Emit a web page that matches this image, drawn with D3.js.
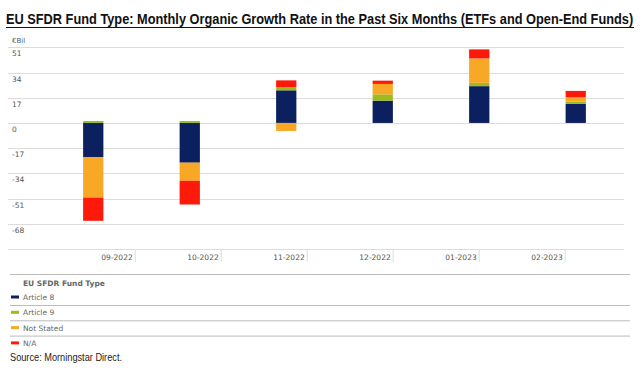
<!DOCTYPE html>
<html>
<head>
<meta charset="utf-8">
<script src="https://cdn.jsdelivr.net/npm/d3@7"></script>
<style>
  body { margin: 0; background: #fff; }
  svg { display: block; }
</style>
</head>
<body>
<svg id="chart" width="644" height="370"></svg>
<script>
const months = ["09-2022", "10-2022", "11-2022", "12-2022", "01-2023", "02-2023"];
const seriesNames = ["Article 8", "Article 9", "Not Stated", "N/A"];
const article8 = [-23, -26.8, 22, 15, 24.8, 12.8];
const article9 = [1.3, 1.3, 2.2, 4.3, 2.2, 1.5];
const notStated = [-27.3, -12.2, -5.4, 7, 16.5, 3];
const naValues = [-15.7, -16, 4.5, 2.2, 6.1, 4.3];
const yTicks = [51, 34, 17, 0, -17, -34, -51, -68];
const colors = ["#0c1f5e", "#9dbb1e", "#f9a825", "#fd1a0a"];

const rows = months.map((m, i) => ({
  month: m,
  "Article 8": article8[i],
  "Article 9": article9[i],
  "Not Stated": notStated[i],
  "N/A": naValues[i]
}));

const svg = d3.select("#chart");

// title, squeezed horizontally to mimic the condensed face
const title = svg.append("text")
  .attr("x", 0).attr("y", 0)
  .style("font-family", "'Liberation Sans Narrow', 'Liberation Sans', Arial, sans-serif")
  .style("font-weight", "bold").style("font-size", "15px")
  .attr("fill", "#111")
  .text("EU SFDR Fund Type: Monthly Organic Growth Rate in the Past Six Months (ETFs and Open-End Funds)");
const tLen = title.node().getComputedTextLength();
title.attr("transform", `translate(6,24) scale(${628 / tLen},1)`);
svg.append("line")
  .attr("x1", 6).attr("x2", 634).attr("y1", 27.5).attr("y2", 27.5)
  .attr("stroke", "#111").attr("stroke-width", 1);

const y = d3.scaleLinear().domain([-85, 51]).range([249, 47.3]);
const x = d3.scaleBand().domain(months).range([45, 624])
  .paddingInner(0.79).paddingOuter(0.395);
const xLab = d3.scalePoint().domain(months).range([134.7, 564.7]);

const axisFont = "'DejaVu Sans', Verdana, sans-serif";

// grid lines + labels
const grid = svg.append("g");
grid.selectAll("line").data(yTicks).join("line")
  .attr("x1", 8).attr("x2", 624)
  .attr("y1", d => Math.round(y(d)) + 0.5).attr("y2", d => Math.round(y(d)) + 0.5)
  .attr("stroke", "#dcdcdc").attr("stroke-width", 1);
grid.selectAll("text").data(yTicks).join("text")
  .attr("x", 12).attr("y", d => y(d) + 9)
  .style("font-family", axisFont).style("font-size", "7.5px")
  .attr("fill", "#555")
  .text(d => d);
svg.append("text")
  .attr("x", 12).attr("y", 43)
  .style("font-family", axisFont).style("font-size", "7px")
  .attr("fill", "#555").text("€Bil");

// bars
const stack = d3.stack().keys(seriesNames).offset(d3.stackOffsetDiverging);
const layers = stack(rows);
svg.append("g").selectAll("g").data(layers).join("g")
  .attr("fill", (d, i) => colors[i])
  .selectAll("rect").data(d => d).join("rect")
  .attr("x", d => x(d.data.month))
  .attr("width", x.bandwidth())
  .attr("y", d => y(Math.max(d[0], d[1])))
  .attr("height", d => Math.abs(y(d[0]) - y(d[1])));

// x axis
svg.append("line")
  .attr("x1", 8).attr("x2", 624).attr("y1", 249.5).attr("y2", 249.5)
  .attr("stroke", "#dcdcdc");
const xg = svg.append("g");
xg.selectAll("line").data(months).join("line")
  .attr("x1", d => xLab(d) + 0.5).attr("x2", d => xLab(d) + 0.5)
  .attr("y1", 249).attr("y2", 262)
  .attr("stroke", "#dcdcdc");
xg.selectAll("text").data(months).join("text")
  .attr("x", d => xLab(d) - 2).attr("y", 260)
  .attr("text-anchor", "end")
  .style("font-family", axisFont).style("font-size", "7.5px")
  .attr("fill", "#555")
  .text(d => d);

// legend
const leg = svg.append("g");
leg.append("line").attr("x1", 10).attr("x2", 630).attr("y1", 274.5).attr("y2", 274.5)
  .attr("stroke", "#bbb");
leg.append("text").attr("x", 23).attr("y", 286)
  .style("font-family", axisFont).style("font-size", "7.5px").style("font-weight", "bold")
  .attr("fill", "#666").text("EU SFDR Fund Type");
const entries = leg.selectAll("g.entry").data(seriesNames).join("g")
  .attr("class", "entry")
  .attr("transform", (d, i) => `translate(0, ${297 + i * 15.3})`);
entries.append("rect").attr("x", 11).attr("y", -1.5).attr("width", 8).attr("height", 3)
  .attr("fill", (d, i) => colors[i]);
entries.append("text").attr("x", 23).attr("y", 3)
  .style("font-family", axisFont).style("font-size", "7.5px")
  .attr("fill", "#666").text(d => d);
entries.filter((d, i) => i < 3).append("line")
  .attr("x1", 10).attr("x2", 630).attr("y1", 8.5).attr("y2", 8.5)
  .attr("stroke", "#bbb");

svg.append("text").attr("x", 10).attr("y", 361)
  .attr("textLength", 112).attr("lengthAdjust", "spacingAndGlyphs")
  .style("font-family", "'Liberation Sans Narrow', 'Liberation Sans', Arial, sans-serif")
  .style("font-size", "11px").attr("fill", "#222")
  .text("Source: Morningstar Direct.");
</script>
</body>
</html>
